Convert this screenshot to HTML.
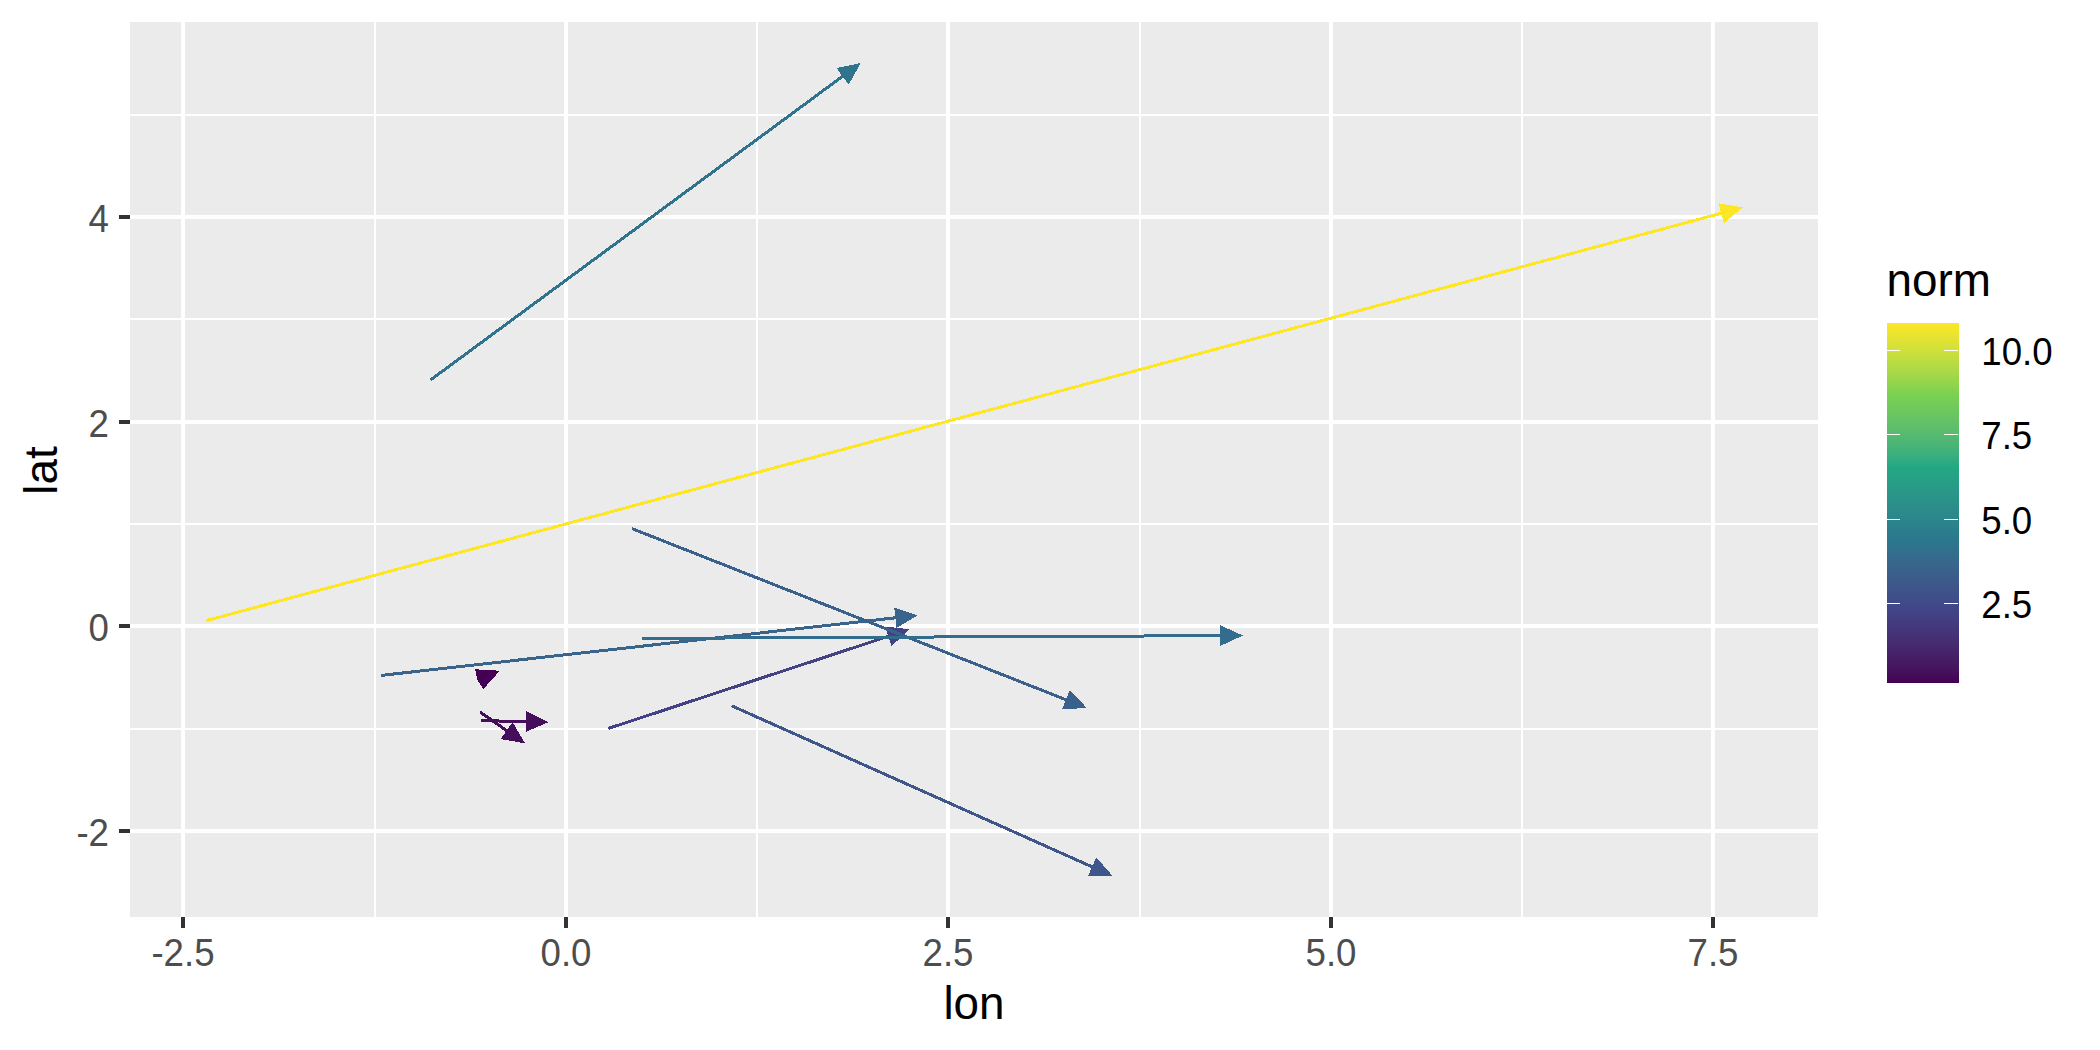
<!DOCTYPE html>
<html><head><meta charset="utf-8"><style>
html,body{margin:0;padding:0;background:#fff;}
svg{display:block;}
text{font-family:"Liberation Sans",sans-serif;}
</style></head><body>
<svg width="2100" height="1050" viewBox="0 0 2100 1050">
<defs><linearGradient id="vg" x1="0" y1="1" x2="0" y2="0">
<stop offset="0.000" stop-color="#440154"/>
<stop offset="0.025" stop-color="#450E5A"/>
<stop offset="0.050" stop-color="#451860"/>
<stop offset="0.075" stop-color="#462067"/>
<stop offset="0.100" stop-color="#46286D"/>
<stop offset="0.125" stop-color="#452F73"/>
<stop offset="0.150" stop-color="#44367A"/>
<stop offset="0.175" stop-color="#433D80"/>
<stop offset="0.200" stop-color="#414487"/>
<stop offset="0.225" stop-color="#404B88"/>
<stop offset="0.250" stop-color="#3F5189"/>
<stop offset="0.275" stop-color="#3D588A"/>
<stop offset="0.300" stop-color="#3B5E8B"/>
<stop offset="0.325" stop-color="#38658C"/>
<stop offset="0.350" stop-color="#346B8C"/>
<stop offset="0.375" stop-color="#30728D"/>
<stop offset="0.400" stop-color="#2A788E"/>
<stop offset="0.425" stop-color="#2B7E8D"/>
<stop offset="0.450" stop-color="#2C848C"/>
<stop offset="0.475" stop-color="#2C8A8B"/>
<stop offset="0.500" stop-color="#2B9089"/>
<stop offset="0.525" stop-color="#2A9688"/>
<stop offset="0.550" stop-color="#289C87"/>
<stop offset="0.575" stop-color="#26A285"/>
<stop offset="0.600" stop-color="#22A884"/>
<stop offset="0.625" stop-color="#36AD7F"/>
<stop offset="0.650" stop-color="#44B279"/>
<stop offset="0.675" stop-color="#50B773"/>
<stop offset="0.700" stop-color="#5ABC6D"/>
<stop offset="0.725" stop-color="#63C167"/>
<stop offset="0.750" stop-color="#6BC760"/>
<stop offset="0.775" stop-color="#73CC59"/>
<stop offset="0.800" stop-color="#7AD151"/>
<stop offset="0.825" stop-color="#8DD44D"/>
<stop offset="0.850" stop-color="#9FD749"/>
<stop offset="0.875" stop-color="#B0DA45"/>
<stop offset="0.900" stop-color="#C0DD40"/>
<stop offset="0.925" stop-color="#D0E03A"/>
<stop offset="0.950" stop-color="#DFE234"/>
<stop offset="0.975" stop-color="#EEE52D"/>
<stop offset="1.000" stop-color="#FDE725"/>
</linearGradient></defs>
<rect x="0" y="0" width="2100" height="1050" fill="#FFFFFF"/>
<rect x="130" y="22" width="1688" height="895" fill="#EBEBEB"/>
<rect x="130" y="114" width="1688" height="2" fill="#fff"/>
<rect x="130" y="318" width="1688" height="2" fill="#fff"/>
<rect x="130" y="523" width="1688" height="2" fill="#fff"/>
<rect x="130" y="728" width="1688" height="2" fill="#fff"/>
<rect x="374" y="22" width="2" height="895" fill="#fff"/>
<rect x="756" y="22" width="2" height="895" fill="#fff"/>
<rect x="1139" y="22" width="2" height="895" fill="#fff"/>
<rect x="1521" y="22" width="2" height="895" fill="#fff"/>
<rect x="130" y="215" width="1688" height="4" fill="#fff"/>
<rect x="130" y="420" width="1688" height="4" fill="#fff"/>
<rect x="130" y="624" width="1688" height="4" fill="#fff"/>
<rect x="130" y="829" width="1688" height="4" fill="#fff"/>
<rect x="181" y="22" width="4" height="895" fill="#fff"/>
<rect x="564" y="22" width="4" height="895" fill="#fff"/>
<rect x="946" y="22" width="4" height="895" fill="#fff"/>
<rect x="1329" y="22" width="4" height="895" fill="#fff"/>
<rect x="1711" y="22" width="4" height="895" fill="#fff"/>
<line x1="430.5" y1="380.0" x2="849.8" y2="71.0" stroke="#2F738D" stroke-width="3" shape-rendering="crispEdges"/>
<polygon shape-rendering="crispEdges" points="848.7,84.6 860.7,63.0 836.5,68.1" fill="#2F738D"/>
<line x1="206.4" y1="620.6" x2="1729.9" y2="210.9" stroke="#FDE725" stroke-width="3" shape-rendering="crispEdges"/>
<polygon shape-rendering="crispEdges" points="1723.8,223.2 1742.9,207.4 1718.5,203.3" fill="#FDE725"/>
<line x1="608.2" y1="728.5" x2="896.9" y2="633.5" stroke="#424285" stroke-width="3" shape-rendering="crispEdges"/>
<polygon shape-rendering="crispEdges" points="891.5,646.1 909.7,629.3 885.1,626.5" fill="#424285"/>
<line x1="731.7" y1="705.8" x2="1100.3" y2="870.5" stroke="#3E568A" stroke-width="3" shape-rendering="crispEdges"/>
<polygon shape-rendering="crispEdges" points="1087.9,876.2 1112.6,876.0 1096.3,857.4" fill="#3E568A"/>
<polygon shape-rendering="crispEdges" points="475.3,669.3 499.8,670.7 483.5,689 477,679.3" fill="#440154"/>
<line x1="481.1" y1="720.6" x2="535.1" y2="721.8" stroke="#450F5B" stroke-width="3" shape-rendering="crispEdges"/>
<polygon shape-rendering="crispEdges" points="525.9,731.9 548.6,722.1 526.3,711.3" fill="#450F5B"/>
<line x1="480.0" y1="712.0" x2="514.0" y2="735.7" stroke="#450E5A" stroke-width="3" shape-rendering="crispEdges"/>
<polygon shape-rendering="crispEdges" points="500.7,739.0 525.1,743.4 512.5,722.1" fill="#450E5A"/>
<line x1="381.1" y1="675.4" x2="904.3" y2="616.8" stroke="#39648B" stroke-width="3" shape-rendering="crispEdges"/>
<polygon shape-rendering="crispEdges" points="896.5,628.0 917.7,615.3 894.2,607.6" fill="#39648B"/>
<line x1="632.0" y1="528.6" x2="1074.3" y2="703.0" stroke="#3A618B" stroke-width="3" shape-rendering="crispEdges"/>
<polygon shape-rendering="crispEdges" points="1062.2,709.3 1086.9,708.0 1069.7,690.2" fill="#3A618B"/>
<line x1="642.4" y1="638.4" x2="1229.4" y2="635.6" stroke="#346C8D" stroke-width="3" shape-rendering="crispEdges"/>
<polygon shape-rendering="crispEdges" points="1220.5,645.9 1242.9,635.5 1220.4,625.3" fill="#346C8D"/>
<rect x="119" y="215" width="11" height="4" fill="#333333"/>
<rect x="119" y="420" width="11" height="4" fill="#333333"/>
<rect x="119" y="624" width="11" height="4" fill="#333333"/>
<rect x="119" y="829" width="11" height="4" fill="#333333"/>
<rect x="181" y="917" width="4" height="11" fill="#333333"/>
<rect x="564" y="917" width="4" height="11" fill="#333333"/>
<rect x="946" y="917" width="4" height="11" fill="#333333"/>
<rect x="1329" y="917" width="4" height="11" fill="#333333"/>
<rect x="1711" y="917" width="4" height="11" fill="#333333"/>
<text transform="translate(109,231.7) scale(1,1.035)" font-size="36.67" fill="#4D4D4D" text-anchor="end">4</text>
<text transform="translate(109,436.7) scale(1,1.035)" font-size="36.67" fill="#4D4D4D" text-anchor="end">2</text>
<text transform="translate(109,640.7) scale(1,1.035)" font-size="36.67" fill="#4D4D4D" text-anchor="end">0</text>
<text transform="translate(109,845.7) scale(1,1.035)" font-size="36.67" fill="#4D4D4D" text-anchor="end">-2</text>
<text transform="translate(183.0,966) scale(1,1.035)" font-size="36.67" fill="#4D4D4D" text-anchor="middle">-2.5</text>
<text transform="translate(566.0,966) scale(1,1.035)" font-size="36.67" fill="#4D4D4D" text-anchor="middle">0.0</text>
<text transform="translate(948.0,966) scale(1,1.035)" font-size="36.67" fill="#4D4D4D" text-anchor="middle">2.5</text>
<text transform="translate(1331.0,966) scale(1,1.035)" font-size="36.67" fill="#4D4D4D" text-anchor="middle">5.0</text>
<text transform="translate(1713.0,966) scale(1,1.035)" font-size="36.67" fill="#4D4D4D" text-anchor="middle">7.5</text>
<text x="974" y="1019" font-size="45.83" fill="#000" text-anchor="middle">lon</text>
<text transform="translate(56.9,470.5) rotate(-90)" x="0" y="0" font-size="45.83" fill="#000" text-anchor="middle">lat</text>
<text x="1886.5" y="296" font-size="45.83" fill="#000">norm</text>
<rect x="1887" y="323" width="72" height="360" fill="url(#vg)"/>
<rect x="1887" y="350" width="13" height="1" fill="#fff"/>
<rect x="1944" y="350" width="14" height="1" fill="#fff"/>
<text transform="translate(1981.3,365.0) scale(1,1.035)" font-size="36.67" fill="#000">10.0</text>
<rect x="1887" y="434" width="13" height="1" fill="#fff"/>
<rect x="1944" y="434" width="14" height="1" fill="#fff"/>
<text transform="translate(1981.3,449.0) scale(1,1.035)" font-size="36.67" fill="#000">7.5</text>
<rect x="1887" y="519" width="13" height="1" fill="#fff"/>
<rect x="1944" y="519" width="14" height="1" fill="#fff"/>
<text transform="translate(1981.3,534.0) scale(1,1.035)" font-size="36.67" fill="#000">5.0</text>
<rect x="1887" y="603" width="13" height="1" fill="#fff"/>
<rect x="1944" y="603" width="14" height="1" fill="#fff"/>
<text transform="translate(1981.3,618.0) scale(1,1.035)" font-size="36.67" fill="#000">2.5</text>
</svg></body></html>
